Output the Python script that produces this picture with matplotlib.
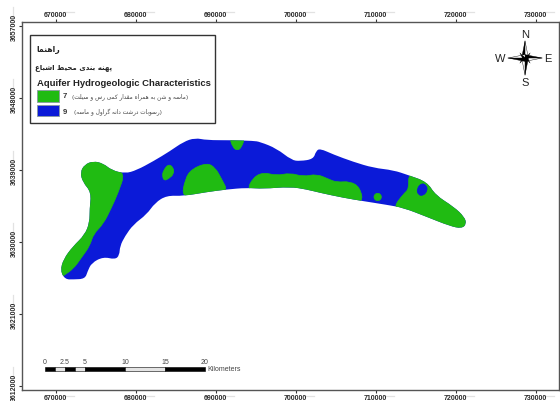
import unicodedata
import matplotlib
matplotlib.use("Agg")
import matplotlib.pyplot as plt
from matplotlib.patches import Polygon, Rectangle, PathPatch
from matplotlib.path import Path

# map outline and zones, UTM metres
aquifer = [(671190,3625400),(670600,3626480),(671000,3627940),(672180,3629520),(673640,3630940),
           (674260,3632520),(674260,3634190),(674470,3636270),(673420,3637520),(673080,3638770),
           (673640,3639750),(674730,3640180),(675980,3639880),(677020,3639040),(678690,3638620),
           (680140,3639040),(682230,3640160),(684310,3641420),(685980,3642580),(687440,3643080),
           (688900,3642790),(691810,3642790),(694730,3642710),(695560,3642580),(697640,3641750),
           (699520,3640290),(700560,3640170),(702230,3640420),(702560,3641420),(703060,3641750),
           (704730,3641000),(707230,3640080),(709730,3639330),(712230,3639040),(714100,3638420),
           (716450,3637580),(717500,3635920),(719790,3634460),(721120,3633200),(721370,3632310),
           (720770,3631750),(719310,3632050),(716390,3633210),(713480,3634340),(711390,3634710),
           (708480,3635170),(705980,3635590),(703060,3636210),(701390,3636630),(699310,3636960),
           (695980,3636710),(693890,3636840),(691400,3636630),(688900,3636300),(685980,3635800),
           (683890,3635880),(682440,3634960),(681390,3633500),(679730,3632250),(678690,3630800),
           (678060,3629550),(677980,3628380),(677440,3627880),(675980,3628210),(674520,3627460),
           (674020,3626420),(673690,3625460),(672230,3625380)]

green_west = [(670700,3625600),(670300,3626480),(670700,3627940),(671900,3629700),(673400,3631100),
              (674000,3632520),(674000,3634190),(674200,3636270),(673100,3637520),(672800,3638900),
              (673400,3640000),(674730,3640500),(675980,3640200),(677020,3639300),(678690,3638700),
              (677850,3636270),(677020,3634400),(675980,3632310),(674730,3631060),(674310,3629610),
              (673270,3628150),(672230,3626690),(670980,3625860)]
green_spot = [(683480,3638980),(684100,3639810),(684730,3639400),(684810,3638560),(684100,3637940),
              (683560,3637730),(683350,3638360)]
green_notch = [(691730,3643200),(693690,3643200),(693270,3641900),(692730,3641480),(692150,3641900)]
green_mid = [(685770,3635500),(686190,3637940),(687020,3639190),(688900,3639940),(689940,3639400),
             (690770,3637940),(691600,3636300),(688900,3636000)]
green_long = [(693890,3636500),(694730,3638150),(695980,3638770),(697640,3638360),(699310,3638690),
              (700980,3638230),(702640,3638560),(704100,3637940),(705140,3637520),(706810,3637650),
              (708060,3636900),(708480,3634900),(705980,3635200),(703060,3635800),(701390,3636200),
              (699310,3636500),(695980,3636300)]
green_dot = [(709770,3635690),(709920,3636040),(710270,3636190),(710620,3636040),(710770,3635690),
             (710620,3635340),(710270,3635190),(709920,3635340)]
green_east = [(714100,3638800),(714190,3636690),(713480,3636060),(712230,3634400),(713480,3634000),
              (716390,3632900),(719310,3631700),(720770,3631400),(721700,3632310),(721500,3633300),
              (720100,3634700),(717800,3636200),(716700,3637900)]
blue_east = [(715150,3636690),(715770,3637440),(716390,3637110),(716480,3636480),(715980,3635860),
             (715350,3635940)]

x_ticks = [670000, 680000, 690000, 700000, 710000, 720000, 730000]
y_ticks = [3612000, 3621000, 3630000, 3639000, 3648000, 3657000]
scale_km = [0, 2.5, 5, 10, 15, 20]
scale_cuts = [0, 1.25, 2.5, 3.75, 5, 10, 15, 20]

legend_head = "راهنما"
legend_sub = "پهنه بندی محیط اشباع"
legend_title = "Aquifer Hydrogeologic Characteristics"
class_7 = "ماسه و شن به همراه مقدار کمی رس و سیلت"
class_9 = "رسوبات درشت دانه گراول و ماسه"

GREEN = "#20bb12"
BLUE = "#0b1ad8"
INK = "#2a2a2a"


# matplotlib does no arabic shaping, so pick the joined forms by unicode name
def form(ch, suffix):
    try:
        return unicodedata.lookup(unicodedata.name(ch) + " " + suffix)
    except (KeyError, ValueError):
        return None


def shape(txt):
    out = []
    for i, ch in enumerate(txt):
        if ch == " ":
            out.append(ch)
            continue
        prev = txt[i-1] if i > 0 else " "
        nxt = txt[i+1] if i < len(txt)-1 else " "
        back = prev != " " and form(prev, "INITIAL FORM") is not None
        ahead = nxt != " " and form(ch, "INITIAL FORM") is not None
        if back and ahead:
            out.append(form(ch, "MEDIAL FORM") or ch)
        elif back:
            out.append(form(ch, "FINAL FORM") or ch)
        elif ahead:
            out.append(form(ch, "INITIAL FORM") or ch)
        else:
            out.append(form(ch, "ISOLATED FORM") or ch)
    return "".join(out)[::-1]


# closed curve that uses the read points as quadratic control points
def smooth(points):
    n = len(points)
    mid = [((points[i][0]+points[(i+1) % n][0])/2, (points[i][1]+points[(i+1) % n][1])/2) for i in range(n)]
    verts = [mid[-1]]
    codes = [Path.MOVETO]
    for i in range(n):
        verts += [points[i], mid[i]]
        codes += [Path.CURVE3, Path.CURVE3]
    return Path(verts, codes)


plt.rcParams['font.family'] = ['Liberation Sans', 'DejaVu Sans']

fig = plt.figure(figsize=(5.6, 4.02), dpi=100)
ax = fig.add_axes([22/560, 1-391/402, 537/560, 368/402])
ax.set_xlim(665812, 732937)
ax.set_ylim(3611562, 3657562)

outline = PathPatch(smooth(aquifer), fc=BLUE, ec="none", lw=0, zorder=2)
ax.add_patch(outline)
for zone in [green_west, green_spot, green_notch, green_mid, green_long, green_dot, green_east]:
    z = PathPatch(smooth(zone), fc=GREEN, ec=GREEN, lw=0.5, zorder=3)
    ax.add_patch(z)
    z.set_clip_path(outline)
ax.add_patch(PathPatch(smooth(blue_east), fc=BLUE, ec=BLUE, lw=0.6, zorder=4))

ax.set_xticks(x_ticks)
ax.set_yticks(y_ticks)
ax.set_xticklabels([str(v) for v in x_ticks], fontsize=5, fontweight="bold", color=INK)
ax.set_yticklabels([str(v) for v in y_ticks], fontsize=5, fontweight="bold", color=INK,
                   rotation=90, va="center")
ax.tick_params(top=True, right=True, labeltop=True, length=2.2, width=0.8, pad=1, color="#333333")
for s in ax.spines.values():
    s.set_color("#555555")
    s.set_linewidth(1.0)

# faint smudges beside the tick labels
for v in x_ticks:
    for yy in [3658812, 3610812]:
        ax.plot([v+1000, v+2300], [yy, yy], color="#e2e2e2", lw=0.9, clip_on=False, zorder=1)
for v in y_ticks:
    ax.plot([664687, 664687], [v+1200, v+2400], color="#e2e2e2", lw=0.9, clip_on=False, zorder=1)


# legend box, in pixel-like figure positions
def fx(px):
    return px/560


def fy(py):
    return 1-py/402


fig.add_artist(Rectangle((fx(30), fy(124)), 185/560, 88/402, fc="white", ec="#333333", lw=1.0,
                         transform=fig.transFigure, zorder=5))
fig.text(fx(60), fy(50), shape(legend_head), fontsize=5.5, fontweight="bold", ha="right", va="center",
         color="#222222", family=['DejaVu Sans'], zorder=6)
fig.text(fx(112), fy(68), shape(legend_sub), fontsize=5.0, fontweight="bold", ha="right", va="center",
         color="#222222", family=['DejaVu Sans'], zorder=6)
fig.text(fx(37), fy(83), legend_title, fontsize=6.8, fontweight="bold", ha="left", va="center",
         color="#222222", zorder=6)
fig.add_artist(Rectangle((fx(37), fy(103)), 22/560, 12/402, fc=GREEN, ec="#8a9aa0", lw=0.6,
                         transform=fig.transFigure, zorder=6))
fig.add_artist(Rectangle((fx(37), fy(117)), 22/560, 11/402, fc=BLUE, ec="#8a9aa0", lw=0.6,
                         transform=fig.transFigure, zorder=6))
fig.text(fx(63), fy(97), "7", fontsize=5.5, fontweight="bold", va="center", color="#333333", zorder=6)
fig.text(fx(63), fy(112), "9", fontsize=5.5, fontweight="bold", va="center", color="#333333", zorder=6)
fig.text(fx(188), fy(97), "(" + shape(class_7) + ")", fontsize=4.15, ha="right", va="center",
         color="#444444", family=['DejaVu Sans'], zorder=6)
fig.text(fx(162), fy(112), "(" + shape(class_9) + ")", fontsize=4.15, ha="right", va="center",
         color="#444444", family=['DejaVu Sans'], zorder=6)

# scale bar
bar_x0 = 668690
bar_y = 3613940
bar_h = 500
for i in range(len(scale_cuts)-1):
    a = bar_x0 + scale_cuts[i]*1000
    b = bar_x0 + scale_cuts[i+1]*1000
    ax.add_patch(Rectangle((a, bar_y), b-a, bar_h, fc="black" if i % 2 == 0 else "#e4e4e4",
                           ec="black", lw=0.4, zorder=5))
for km in scale_km:
    ax.text(bar_x0 + km*1000, bar_y+bar_h+250, str(km), fontsize=5, ha="center", va="bottom",
            color="#444444", zorder=5)
ax.text(bar_x0 + 20000 + 250, bar_y+bar_h/2, "Kilometers", fontsize=5, ha="left", va="center",
        color="#444444", zorder=5)

# north arrow
cx, cy = 728690, 3653060
arm = 2150
waist = 420
dirs = [(0, 1), (1, 0), (0, -1), (-1, 0)]
for dx, dy in dirs:
    px, py = -dy*waist, dx*waist
    tip = (cx+dx*arm, cy+dy*arm)
    ax.add_patch(Polygon([(cx, cy), tip, (cx+px, cy+py)], fc="black", ec="black", lw=0.3, zorder=5))
    ax.add_patch(Polygon([(cx, cy), tip, (cx-px, cy-py)], fc="white", ec="black", lw=0.3, zorder=5))
for dx, dy in [(1, 1), (1, -1), (-1, 1), (-1, -1)]:
    ax.add_patch(Polygon([(cx, cy), (cx+dx*650, cy+dy*650), (cx+dx*220, cy-dy*220)],
                         fc="black", ec="black", lw=0.2, zorder=6))
ax.text(cx, cy+3000, "N", fontsize=8, ha="center", va="center", color="#222222", zorder=5)
ax.text(cx, cy-3000, "S", fontsize=8, ha="center", va="center", color="#222222", zorder=5)
ax.text(cx+2900, cy, "E", fontsize=8, ha="center", va="center", color="#222222", zorder=5)
ax.text(cx-3050, cy, "W", fontsize=8, ha="center", va="center", color="#222222", zorder=5)

fig.savefig("out.png", dpi=100, facecolor="white")
